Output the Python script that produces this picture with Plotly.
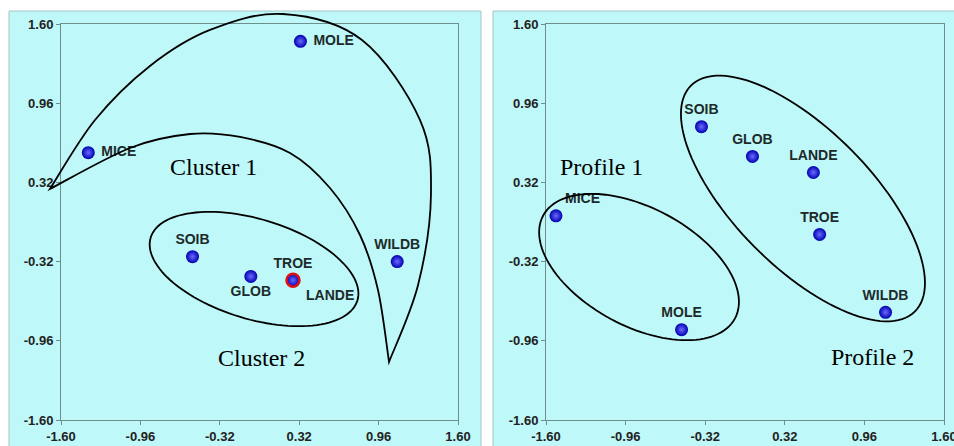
import math
import plotly.graph_objects as go

# ---------------- data ----------------
tick_vals = [-1.60, -0.96, -0.32, 0.32, 0.96, 1.60]
tick_text = ["-1.60", "-0.96", "-0.32", "0.32", "0.96", "1.60"]

left_names = ["MICE", "MOLE", "SOIB", "GLOB", "TROE", "LANDE", "WILDB"]
left_x = [-1.38, 0.33, -0.54, -0.07, 0.27, 0.27, 1.11]
left_y = [0.56, 1.46, -0.28, -0.44, -0.47, -0.47, -0.32]

right_names = ["MICE", "SOIB", "GLOB", "LANDE", "TROE", "MOLE", "WILDB"]
right_x = [-1.52, -0.35, 0.06, 0.55, 0.60, -0.51, 1.13]
right_y = [0.05, 0.77, 0.53, 0.40, -0.10, -0.87, -0.73]

group_labels = ["Cluster 1", "Cluster 2", "Profile 1", "Profile 2"]

# ---------------- layout constants ----------------
W, H = 954, 446
BG = "#BFF8F8"
AX_LINE = "#6f8f8f"
LO, HI = -1.6, 1.6

xdom_l = [61 / W, 458 / W]
xdom_r = [546 / W, 944 / W]
ydom = [1 - 420 / H, 1 - 24 / H]

left_pos = ["middle right", "middle right", "top center", "bottom center",
            "top center", "bottom right", "top center"]
right_pos = ["top right", "top center", "top center", "top center",
             "top center", "top center", "top center"]


def to_paper(x, y, xd):
    px = xd[0] + (x - LO) / (HI - LO) * (xd[1] - xd[0])
    py = ydom[0] + (y - LO) / (HI - LO) * (ydom[1] - ydom[0])
    return px, py


def ellipse_path(cx, cy, a, b, ang_deg, xd, n=120):
    t = math.radians(ang_deg)
    pts = []
    for i in range(n + 1):
        u = 2 * math.pi * i / n
        ex = a * math.cos(u)
        ey = b * math.sin(u)
        x = cx + ex * math.cos(t) - ey * math.sin(t)
        y = cy + ex * math.sin(t) + ey * math.cos(t)
        pts.append(to_paper(x, y, xd))
    return "M " + " L ".join(f"{p[0]:.5f},{p[1]:.5f}" for p in pts) + " Z"


def spline_segments(pts):
    # Catmull-Rom through the anchor points, as cubic Bezier commands
    ext = [pts[0]] + pts + [pts[-1]]
    cmds = []
    for i in range(1, len(ext) - 2):
        p0, p1, p2, p3 = ext[i - 1], ext[i], ext[i + 1], ext[i + 2]
        c1 = (p1[0] + (p2[0] - p0[0]) / 6, p1[1] + (p2[1] - p0[1]) / 6)
        c2 = (p2[0] - (p3[0] - p1[0]) / 6, p2[1] - (p3[1] - p1[1]) / 6)
        cmds.append(f"C {c1[0]:.5f},{c1[1]:.5f} {c2[0]:.5f},{c2[1]:.5f} {p2[0]:.5f},{p2[1]:.5f}")
    return cmds


# teardrop outline (Cluster 1) in data units
outer_arc = [(-1.689, 0.267), (-1.326, 0.824), (-0.883, 1.261), (-0.399, 1.552),
             (0.189, 1.681), (0.826, 1.471), (1.294, 0.824), (1.382, 0.218),
             (1.278, -0.509), (1.044, -1.131)]
inner_arc = [(1.044, -1.131), (0.955, -0.550), (0.810, -0.105), (0.568, 0.275),
             (0.246, 0.558), (-0.157, 0.687), (-0.560, 0.711), (-1.044, 0.598),
             (-1.689, 0.267)]

outer_p = [to_paper(x, y, xdom_l) for x, y in outer_arc]
inner_p = [to_paper(x, y, xdom_l) for x, y in inner_arc]
tear_path = (f"M {outer_p[0][0]:.5f},{outer_p[0][1]:.5f} "
             + " ".join(spline_segments(outer_p)) + " "
             + " ".join(spline_segments(inner_p)) + " Z")

fig = go.Figure()

marker_style = dict(size=13, color="#0000b0",
                    gradient=dict(type="radial", color="#6a6aff"))
label_font = dict(family="Liberation Sans, Arial", size=14, color="#1c2a2a", weight="bold")

left_line_col = ["#e01010" if n == "LANDE" else "rgba(0,0,0,0)" for n in left_names]
left_line_w = [2.5 if n == "LANDE" else 0 for n in left_names]

fig.add_trace(go.Scatter(
    x=left_x, y=left_y,
    text=[" " + n if p.endswith("right") else n for n, p in zip(left_names, left_pos)],
    mode="markers+text", textposition=left_pos, textfont=label_font,
    marker=dict(**marker_style, line=dict(color=left_line_col, width=left_line_w)),
    xaxis="x", yaxis="y", showlegend=False, cliponaxis=False, hoverinfo="skip"))

fig.add_trace(go.Scatter(
    x=right_x, y=right_y, text=right_names,
    mode="markers+text", textposition=right_pos, textfont=label_font,
    marker=dict(**marker_style, line=dict(width=0)),
    xaxis="x2", yaxis="y2", showlegend=False, cliponaxis=False, hoverinfo="skip"))

axis_common = dict(
    range=[LO, HI], tickmode="array", tickvals=tick_vals, ticktext=tick_text,
    showgrid=False, zeroline=False, showline=True, mirror=True,
    linecolor=AX_LINE, linewidth=1, ticks="outside", ticklen=4, tickcolor=AX_LINE,
    tickfont=dict(family="Liberation Sans, Arial", size=13, color="#222222", weight="bold"),
    automargin=False, fixedrange=True, ticklabeloverflow="allow")

shapes = [
    dict(type="rect", xref="paper", yref="paper", x0=9 / W, x1=481 / W,
         y0=-0.05, y1=1 - 11 / H, fillcolor=BG, line=dict(color="#a6c4c4", width=1), layer="below"),
    dict(type="rect", xref="paper", yref="paper", x0=493 / W, x1=1.05,
         y0=-0.05, y1=1 - 11 / H, fillcolor=BG, line=dict(color="#a6c4c4", width=1), layer="below"),
    dict(type="path", xref="paper", yref="paper", path=tear_path,
         line=dict(color="black", width=1.8)),
    dict(type="path", xref="paper", yref="paper",
         path=ellipse_path(-0.044, -0.380, 0.871, 0.403, -17, xdom_l),
         line=dict(color="black", width=1.8)),
    dict(type="path", xref="paper", yref="paper",
         path=ellipse_path(-0.852, -0.364, 0.876, 0.477, -28.4, xdom_r),
         line=dict(color="black", width=1.8)),
    dict(type="path", xref="paper", yref="paper",
         path=ellipse_path(0.466, 0.190, 1.282, 0.552, -45.5, xdom_r),
         line=dict(color="black", width=1.8)),
]

serif = dict(family="Liberation Serif, Times New Roman", size=24, color="black")
ann_pos = [(-0.367, 0.444, "x", "y"), (0.020, -1.099, "x", "y"),
           (-1.150, 0.444, "x2", "y2"), (1.029, -1.091, "x2", "y2")]
annotations = [dict(x=x, y=y, xref=xr, yref=yr, text=t, showarrow=False, font=serif)
               for t, (x, y, xr, yr) in zip(group_labels, ann_pos)]

fig.update_layout(
    width=W, height=H, autosize=False,
    margin=dict(l=0, r=0, t=0, b=0),
    paper_bgcolor="white", plot_bgcolor=BG,
    xaxis=dict(domain=xdom_l, anchor="y", **axis_common),
    yaxis=dict(domain=ydom, anchor="x", **axis_common),
    xaxis2=dict(domain=xdom_r, anchor="y2", **axis_common),
    yaxis2=dict(domain=ydom, anchor="x2", **axis_common),
    shapes=shapes, annotations=annotations,
)

fig.write_html("out.html", config={"displayModeBar": False, "staticPlot": True},
               post_script="document.body.style.margin='0';document.body.style.overflow='hidden';")
